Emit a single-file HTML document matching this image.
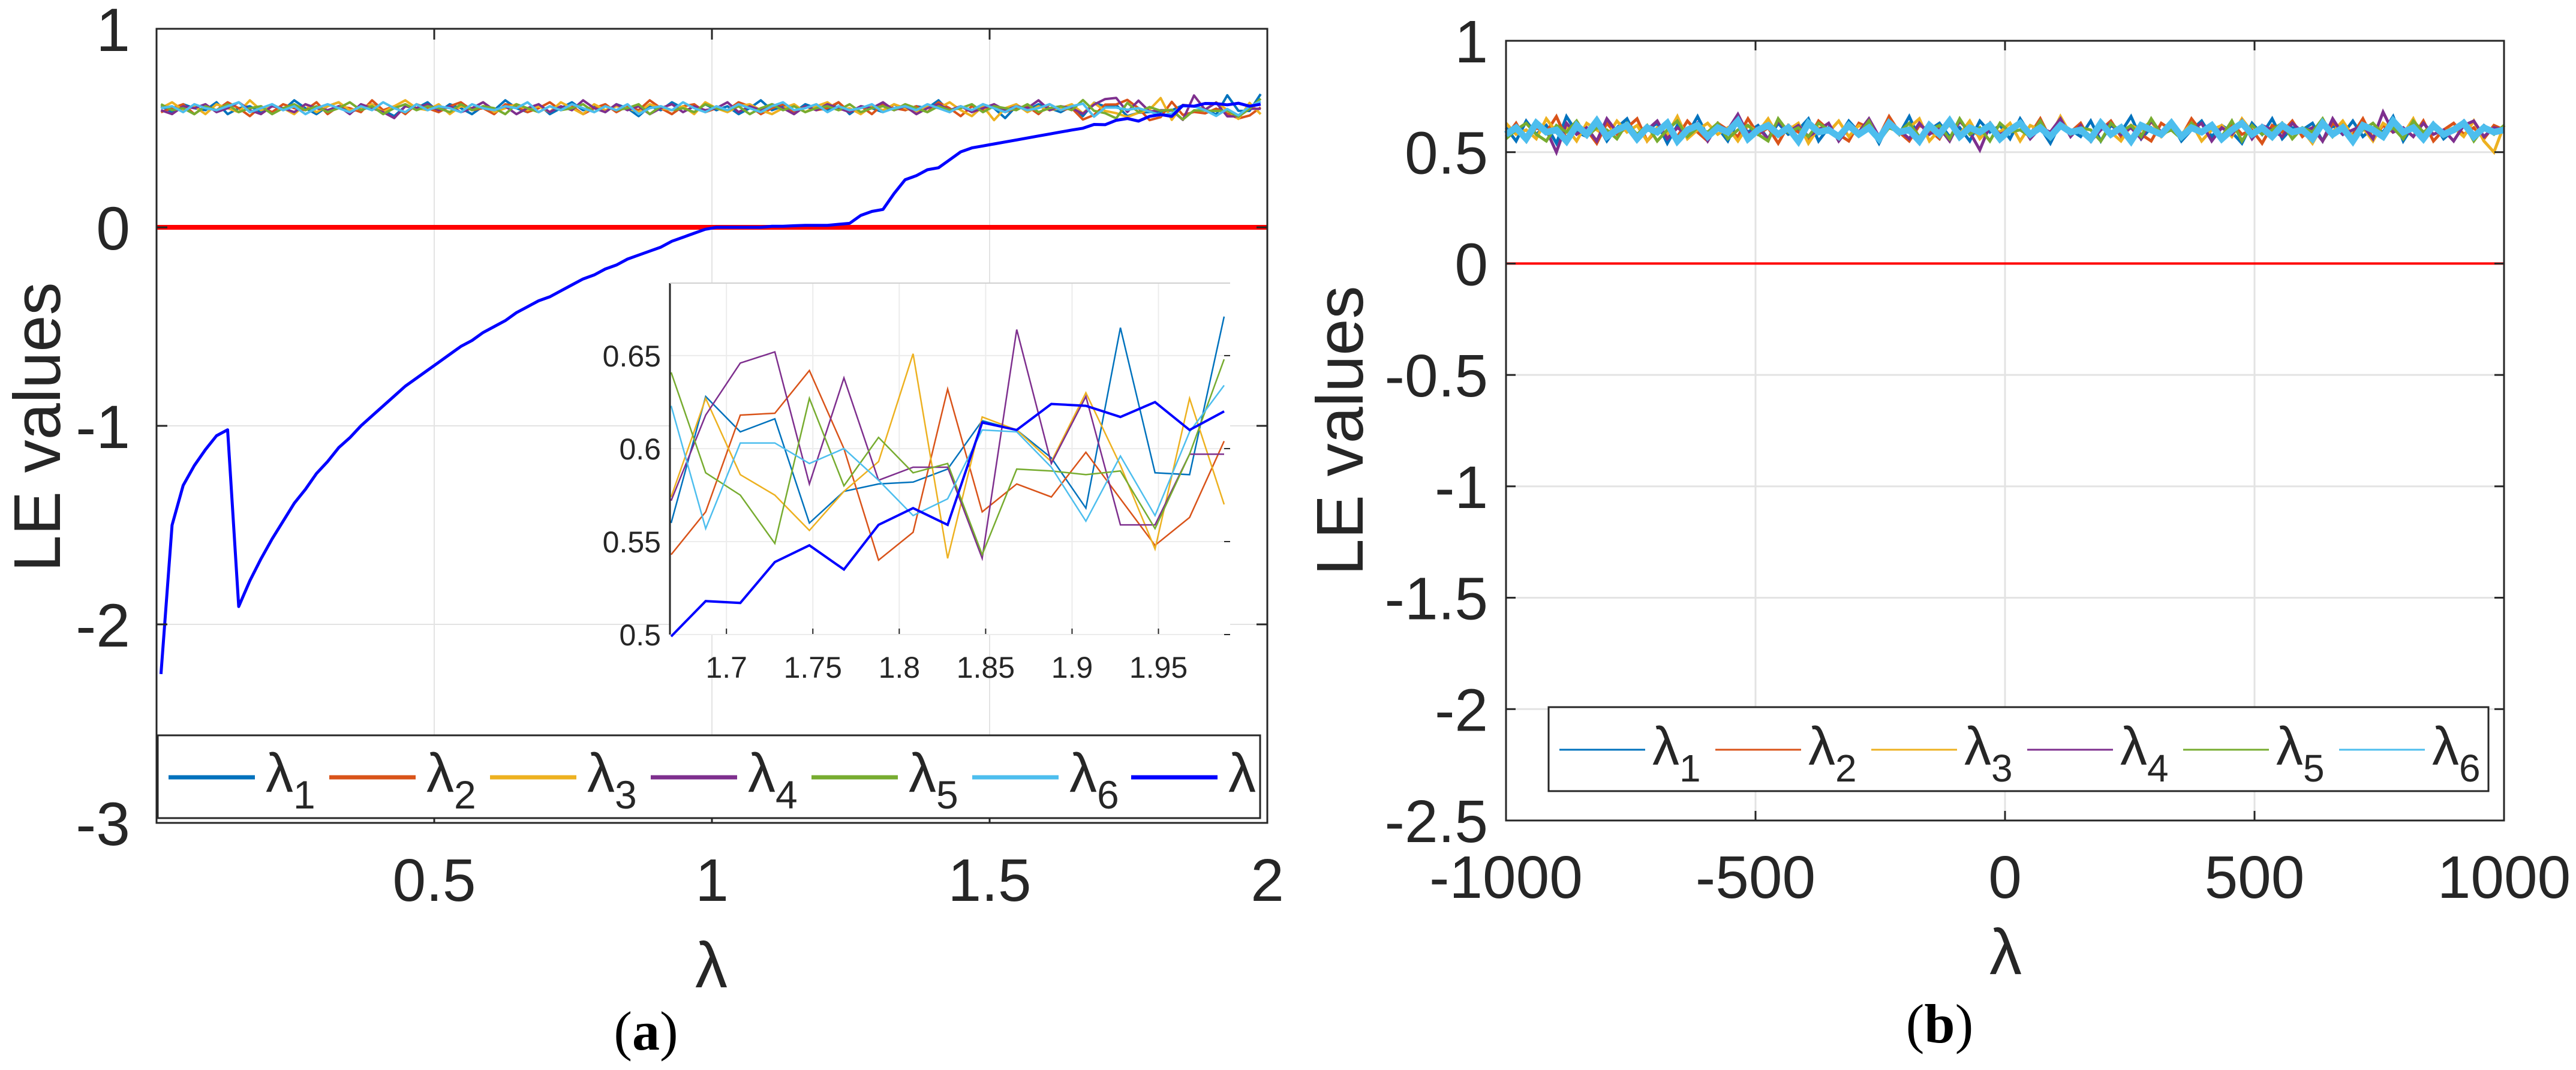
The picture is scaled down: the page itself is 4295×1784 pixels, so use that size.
<!DOCTYPE html>
<html><head><meta charset="utf-8"><title>LE values</title>
<style>
html,body{margin:0;padding:0;background:#fff;}
svg{display:block;}
text{font-family:"Liberation Sans",sans-serif;fill:#262626;}
.serif{font-family:"Liberation Serif",serif;fill:#000;}
</style></head>
<body>
<svg id="fig" width="4295" height="1784" viewBox="0 0 4295 1784" xmlns="http://www.w3.org/2000/svg">
<g id="panelA"></g>
<g id="panelB"></g>
</svg>
<script>
// ---------- DATA: panel (a) ----------
const aXTicks = [0.5, 1, 1.5, 2];
const aXTickLabels = ["0.5", "1", "1.5", "2"];
const aYTicks = [1, 0, -1, -2, -3];
const aYTickLabels = ["1", "0", "-1", "-2", "-3"];
const insetXTicks = [1.7, 1.75, 1.8, 1.85, 1.9, 1.95];
const insetXTickLabels = ["1.7", "1.75", "1.8", "1.85", "1.9", "1.95"];
const insetYTicks = [0.5, 0.55, 0.6, 0.65];
const insetYTickLabels = ["0.5", "0.55", "0.6", "0.65"];
const seriesNames = ["λ1","λ2","λ3","λ4","λ5","λ6","λ"];
const seriesColors = ["#0072BD","#D95319","#EDB120","#7E2F8E","#77AC30","#4DBEEE","#0000FF"];

const l1Head = [0.61,0.58,0.62,0.60,0.59,0.63,0.57,0.60,0.61,0.58,0.62,0.59,0.64,0.60,0.57,0.61,0.63,0.58,0.60,0.62,0.59,0.56,0.61,0.60,0.63,0.58,0.62,0.60,0.57,0.61,0.59,0.64,0.60,0.58,0.62,0.57,0.60,0.63,0.59,0.61,0.58,0.62,0.60,0.56,0.61,0.59,0.63,0.60,0.58,0.62,0.59,0.61,0.57,0.60,0.64,0.59,0.61,0.58,0.62,0.60,0.59,0.63,0.57,0.61,0.60,0.58,0.62,0.59,0.61,0.60,0.64,0.58,0.61,0.59,0.62,0.60,0.55,0.61,0.59,0.62,0.60,0.58,0.61];
const l2Head = [0.58,0.60,0.62,0.57,0.61,0.59,0.63,0.60,0.56,0.61,0.58,0.62,0.60,0.59,0.63,0.57,0.61,0.60,0.58,0.64,0.59,0.61,0.57,0.62,0.60,0.58,0.61,0.63,0.59,0.60,0.57,0.62,0.61,0.58,0.60,0.63,0.59,0.61,0.57,0.60,0.62,0.58,0.61,0.59,0.64,0.60,0.57,0.61,0.62,0.58,0.60,0.59,0.63,0.61,0.57,0.60,0.62,0.58,0.61,0.59,0.60,0.63,0.58,0.61,0.57,0.62,0.60,0.59,0.61,0.58,0.63,0.60,0.56,0.61,0.59,0.62,0.58,0.60,0.61,0.57,0.62,0.59,0.60];
const l3Head = [0.60,0.63,0.59,0.61,0.57,0.62,0.60,0.58,0.64,0.59,0.61,0.60,0.57,0.62,0.58,0.61,0.63,0.59,0.60,0.62,0.58,0.61,0.64,0.60,0.59,0.62,0.57,0.61,0.60,0.63,0.58,0.60,0.62,0.59,0.61,0.58,0.63,0.60,0.57,0.62,0.59,0.61,0.60,0.58,0.62,0.60,0.59,0.61,0.57,0.63,0.60,0.58,0.61,0.62,0.59,0.57,0.60,0.62,0.58,0.61,0.63,0.59,0.60,0.57,0.61,0.59,0.62,0.60,0.58,0.61,0.60,0.63,0.59,0.56,0.61,0.54,0.60,0.62,0.58,0.61,0.59,0.60,0.62];
const l4Head = [0.59,0.57,0.61,0.60,0.62,0.58,0.60,0.63,0.59,0.57,0.61,0.60,0.58,0.62,0.60,0.59,0.61,0.57,0.62,0.60,0.58,0.55,0.61,0.60,0.62,0.59,0.61,0.58,0.60,0.63,0.59,0.61,0.57,0.60,0.62,0.58,0.61,0.59,0.64,0.60,0.58,0.62,0.59,0.61,0.57,0.60,0.62,0.58,0.61,0.59,0.60,0.63,0.58,0.61,0.59,0.62,0.60,0.57,0.61,0.59,0.62,0.60,0.58,0.61,0.60,0.63,0.59,0.61,0.57,0.60,0.62,0.59,0.61,0.58,0.60,0.62,0.59,0.61,0.60,0.64,0.59,0.61,0.60];
const l5Head = [0.62,0.59,0.60,0.57,0.61,0.59,0.62,0.58,0.60,0.61,0.57,0.60,0.62,0.59,0.61,0.58,0.60,0.63,0.59,0.61,0.57,0.60,0.62,0.59,0.61,0.60,0.58,0.62,0.59,0.61,0.60,0.57,0.62,0.60,0.58,0.61,0.59,0.60,0.62,0.58,0.61,0.59,0.60,0.62,0.57,0.61,0.59,0.60,0.58,0.62,0.60,0.59,0.61,0.57,0.60,0.62,0.59,0.61,0.58,0.60,0.61,0.59,0.62,0.58,0.60,0.61,0.59,0.62,0.60,0.58,0.61,0.59,0.60,0.62,0.58,0.61,0.60,0.59,0.62,0.58,0.60,0.61,0.59];
const l6Head = [0.60,0.61,0.58,0.62,0.60,0.59,0.61,0.63,0.58,0.60,0.62,0.59,0.61,0.57,0.60,0.62,0.60,0.58,0.61,0.59,0.63,0.60,0.58,0.62,0.59,0.61,0.60,0.58,0.62,0.60,0.59,0.61,0.60,0.63,0.58,0.61,0.59,0.62,0.60,0.58,0.61,0.59,0.62,0.57,0.60,0.61,0.59,0.63,0.60,0.58,0.61,0.59,0.62,0.60,0.58,0.61,0.63,0.59,0.60,0.62,0.58,0.61,0.59,0.60,0.62,0.58,0.60,0.61,0.59,0.62,0.60,0.58,0.61,0.59,0.62,0.60,0.58,0.61,0.59,0.60,0.62,0.59,0.61];
const lamHead = [-2.25,-1.50,-1.30,-1.20,-1.12,-1.05,-1.02,-1.91,-1.78,-1.67,-1.57,-1.48,-1.39,-1.32,-1.24,-1.18,-1.11,-1.06,-1.00,-0.95,-0.90,-0.85,-0.80,-0.76,-0.72,-0.68,-0.64,-0.60,-0.57,-0.53,-0.50,-0.47,-0.43,-0.40,-0.37,-0.35,-0.32,-0.29,-0.26,-0.24,-0.21,-0.19,-0.16,-0.14,-0.12,-0.10,-0.07,-0.05,-0.03,-0.01,0.00,0.00,0.00,0.00,0.00,0.005,0.005,0.008,0.01,0.01,0.01,0.015,0.02,0.06,0.08,0.09,0.17,0.24,0.26,0.29,0.30,0.34,0.38,0.40,0.41,0.42,0.43,0.44,0.45,0.46,0.47,0.48,0.49];
const l1Tail = [0.560,0.628,0.609,0.616,0.560,0.577,0.581,0.582,0.589,0.615,0.610,0.595,0.568,0.665,0.587,0.586,0.671];
const l2Tail = [0.543,0.566,0.618,0.619,0.642,0.600,0.540,0.555,0.632,0.566,0.581,0.574,0.598,0.573,0.548,0.563,0.604];
const l3Tail = [0.574,0.627,0.586,0.575,0.556,0.577,0.593,0.651,0.541,0.617,0.610,0.593,0.630,0.591,0.546,0.627,0.570];
const l4Tail = [0.572,0.618,0.646,0.652,0.581,0.638,0.583,0.590,0.590,0.541,0.664,0.592,0.628,0.559,0.559,0.597,0.597];
const l5Tail = [0.641,0.587,0.575,0.549,0.627,0.580,0.606,0.587,0.592,0.543,0.589,0.588,0.586,0.588,0.557,0.597,0.648];
const l6Tail = [0.623,0.557,0.603,0.603,0.592,0.600,0.583,0.564,0.573,0.610,0.609,0.590,0.561,0.596,0.564,0.609,0.634];
const lamTail = [0.499,0.518,0.517,0.539,0.548,0.535,0.559,0.568,0.559,0.614,0.610,0.624,0.623,0.617,0.625,0.610,0.620];

// ---------- DATA: panel (b) ----------
const bXTicks = [-1000, -500, 0, 500, 1000];
const bXTickLabels = ["-1000", "-500", "0", "500", "1000"];
const bYTicks = [1, 0.5, 0, -0.5, -1, -1.5, -2, -2.5];
const bYTickLabels = ["1", "0.5", "0", "-0.5", "-1", "-1.5", "-2", "-2.5"];
const b1 = [0.61,0.55,0.64,0.58,0.62,0.54,0.66,0.59,0.57,0.63,0.55,0.61,0.65,0.56,0.60,0.63,0.54,0.62,0.58,0.66,0.57,0.61,0.55,0.64,0.59,0.62,0.56,0.63,0.58,0.60,0.65,0.55,0.61,0.57,0.64,0.59,0.62,0.54,0.63,0.58,0.66,0.56,0.60,0.63,0.57,0.61,0.55,0.64,0.59,0.62,0.56,0.65,0.58,0.61,0.54,0.63,0.60,0.57,0.64,0.55,0.62,0.59,0.66,0.56,0.61,0.58,0.63,0.55,0.60,0.64,0.57,0.62,0.59,0.54,0.63,0.58,0.65,0.56,0.61,0.60,0.63,0.55,0.62,0.58,0.64,0.57,0.61,0.59,0.66,0.55,0.62,0.58,0.63,0.56,0.60,0.64,0.57,0.62,0.59,0.61];
const b2 = [0.57,0.63,0.55,0.61,0.59,0.66,0.56,0.62,0.60,0.54,0.63,0.58,0.61,0.65,0.55,0.60,0.62,0.57,0.64,0.59,0.55,0.63,0.60,0.57,0.65,0.58,0.61,0.54,0.62,0.59,0.56,0.64,0.60,0.58,0.55,0.63,0.61,0.57,0.66,0.59,0.55,0.62,0.60,0.56,0.64,0.58,0.61,0.57,0.63,0.55,0.60,0.62,0.58,0.65,0.56,0.61,0.59,0.63,0.55,0.60,0.64,0.57,0.62,0.58,0.55,0.63,0.60,0.57,0.65,0.59,0.61,0.56,0.63,0.58,0.60,0.54,0.62,0.59,0.64,0.57,0.61,0.55,0.63,0.60,0.58,0.65,0.56,0.62,0.59,0.61,0.57,0.64,0.55,0.60,0.63,0.58,0.61,0.56,0.62,0.60];
const b3 = [0.63,0.58,0.60,0.56,0.65,0.59,0.61,0.55,0.63,0.60,0.57,0.64,0.59,0.62,0.55,0.61,0.58,0.66,0.56,0.60,0.63,0.58,0.61,0.55,0.62,0.59,0.65,0.57,0.60,0.63,0.54,0.61,0.59,0.64,0.57,0.62,0.60,0.56,0.63,0.58,0.61,0.65,0.55,0.60,0.62,0.58,0.64,0.56,0.61,0.59,0.63,0.55,0.62,0.60,0.57,0.66,0.58,0.61,0.56,0.63,0.59,0.55,0.62,0.60,0.64,0.57,0.61,0.58,0.63,0.55,0.60,0.62,0.57,0.65,0.59,0.61,0.56,0.63,0.58,0.60,0.54,0.62,0.59,0.64,0.57,0.61,0.55,0.63,0.60,0.58,0.65,0.56,0.62,0.59,0.61,0.57,0.64,0.55,0.50,0.62];
const b4 = [0.59,0.62,0.56,0.64,0.60,0.50,0.63,0.58,0.61,0.55,0.65,0.59,0.62,0.57,0.60,0.64,0.56,0.61,0.58,0.63,0.55,0.62,0.60,0.67,0.58,0.61,0.56,0.64,0.59,0.62,0.57,0.60,0.63,0.55,0.61,0.59,0.65,0.57,0.62,0.60,0.56,0.63,0.58,0.61,0.55,0.64,0.59,0.51,0.62,0.58,0.60,0.63,0.56,0.61,0.59,0.65,0.57,0.62,0.55,0.60,0.63,0.58,0.61,0.56,0.64,0.59,0.62,0.57,0.60,0.63,0.55,0.61,0.58,0.64,0.56,0.62,0.60,0.57,0.63,0.59,0.61,0.55,0.65,0.58,0.60,0.62,0.56,0.68,0.59,0.61,0.57,0.63,0.58,0.60,0.55,0.62,0.64,0.57,0.61,0.60];
const b5 = [0.56,0.60,0.63,0.58,0.55,0.62,0.59,0.64,0.57,0.61,0.60,0.56,0.63,0.58,0.62,0.55,0.60,0.64,0.57,0.61,0.59,0.63,0.56,0.60,0.62,0.58,0.55,0.65,0.59,0.61,0.57,0.63,0.60,0.56,0.62,0.58,0.64,0.55,0.61,0.59,0.63,0.57,0.60,0.62,0.56,0.65,0.58,0.61,0.55,0.63,0.59,0.60,0.57,0.64,0.56,0.62,0.58,0.61,0.60,0.55,0.63,0.59,0.62,0.57,0.65,0.58,0.60,0.56,0.63,0.59,0.61,0.57,0.64,0.55,0.62,0.58,0.60,0.63,0.56,0.61,0.59,0.65,0.57,0.62,0.55,0.60,0.63,0.58,0.61,0.56,0.64,0.59,0.62,0.57,0.60,0.63,0.55,0.61,0.58,0.62];
const b6 = [0.58,0.61,0.56,0.63,0.59,0.60,0.55,0.62,0.58,0.64,0.57,0.60,0.62,0.56,0.61,0.59,0.63,0.55,0.60,0.62,0.57,0.61,0.59,0.64,0.56,0.60,0.62,0.58,0.61,0.55,0.63,0.59,0.60,0.57,0.62,0.58,0.61,0.56,0.63,0.59,0.60,0.55,0.62,0.58,0.64,0.57,0.61,0.59,0.62,0.56,0.60,0.63,0.58,0.61,0.57,0.62,0.59,0.60,0.56,0.63,0.58,0.61,0.55,0.62,0.60,0.58,0.63,0.57,0.61,0.59,0.62,0.56,0.60,0.63,0.58,0.61,0.57,0.62,0.59,0.60,0.56,0.63,0.58,0.61,0.55,0.62,0.60,0.57,0.64,0.59,0.61,0.56,0.62,0.58,0.60,0.63,0.57,0.61,0.59,0.60];

// ---------- helpers ----------
const NS = "http://www.w3.org/2000/svg";
function mk(parent, tag, attrs) {
  const e = document.createElementNS(NS, tag);
  for (const k in attrs) e.setAttribute(k, attrs[k]);
  parent.appendChild(e);
  return e;
}
function linear(d0, d1, r0, r1) { return v => r0 + (v - d0) / (d1 - d0) * (r1 - r0); }

// ---------- PANEL A ----------
const A = document.getElementById("panelA");
const aL = 261, aR = 2113, aT = 48, aB = 1372;
const ax = linear(0, 2, aL, aR), ay = linear(1, -3, aT, aB);

aXTicks.forEach(t => {
  if (t >= 2) return;
  const g = mk(A, "line", {x1: ax(t), x2: ax(t), y1: aT, y2: aB, stroke: "#e3e3e3", "stroke-width": 2});
  
  
});
aYTicks.forEach(t => {
  if (t >= 1 || t <= -3) return;
  const g = mk(A, "line", {x1: aL, x2: aR, y1: ay(t), y2: ay(t), stroke: "#e3e3e3", "stroke-width": 2});
  
  
});

const aHeads = [l1Head, l2Head, l3Head, l4Head, l5Head, l6Head, lamHead];
const aTails = [l1Tail, l2Tail, l3Tail, l4Tail, l5Tail, l6Tail, lamTail];
const lastX = 1.988, stepX = 0.02;

const zl = mk(A, "line", {x1: aL, x2: aR, y1: ay(0), y2: ay(0), stroke: "#ff0000", "stroke-width": 8});



for (let s = 0; s < 7; s++) {
  const full = aHeads[s].concat(aTails[s]);
  const n = full.length;
  const pts = full.map((v, k) => ax(lastX - stepX * (n - 1 - k)).toFixed(1) + "," + ay(v).toFixed(1)).join(" ");
  const pl = mk(A, "polyline", {points: pts, fill: "none", stroke: seriesColors[s], "stroke-width": s === 6 ? 5 : 4, "stroke-linejoin": "round"});
  
  
}

const aBox = mk(A, "rect", {x: aL, y: aT, width: aR - aL, height: aB - aT, fill: "none", stroke: "#262626", "stroke-width": 3});


aXTicks.forEach((t, i) => {
  mk(A, "line", {x1: ax(t), x2: ax(t), y1: aB, y2: aB - 18, stroke: "#262626", "stroke-width": 3});
  mk(A, "line", {x1: ax(t), x2: ax(t), y1: aT, y2: aT + 18, stroke: "#262626", "stroke-width": 3});
  const tx = mk(A, "text", {x: ax(t), y: 1502, "font-size": 100, "text-anchor": "middle"});
  tx.textContent = aXTickLabels[i];
  
  
});
aYTicks.forEach((t, i) => {
  mk(A, "line", {x1: aL, x2: aL + 18, y1: ay(t), y2: ay(t), stroke: "#262626", "stroke-width": 3});
  mk(A, "line", {x1: aR, x2: aR - 18, y1: ay(t), y2: ay(t), stroke: "#262626", "stroke-width": 3});
  const tx = mk(A, "text", {x: 217, y: ay(t) + 37, "font-size": 102, "text-anchor": "end"});
  tx.textContent = aYTickLabels[i];
  
  
});

// inset
const iL = 1117, iR = 2051, iT = 472, iB = 1058;
const ix = linear(1.668, 1.988, iL + 2, iR - 10), iy = linear(0.5, 0.689, iB, iT);
const iBg = mk(A, "rect", {x: iL, y: iT, width: iR - iL, height: iB - iT, fill: "#fff", stroke: "none"});


insetXTicks.forEach((t, i) => {
  const g = mk(A, "line", {x1: ix(t), x2: ix(t), y1: iT, y2: iB, stroke: "#ececec", "stroke-width": 2});
  
  
  mk(A, "line", {x1: ix(t), x2: ix(t), y1: iB, y2: iB - 10, stroke: "#262626", "stroke-width": 2});
  const tx = mk(A, "text", {x: ix(t), y: 1130, "font-size": 50, "text-anchor": "middle"});
  tx.textContent = insetXTickLabels[i];
  
  
});
insetYTicks.forEach((t, i) => {
  const g = mk(A, "line", {x1: iL, x2: iR, y1: iy(t), y2: iy(t), stroke: "#ececec", "stroke-width": 2});
  
  
  mk(A, "line", {x1: iR, x2: iR - 10, y1: iy(t), y2: iy(t), stroke: "#262626", "stroke-width": 2});
  const tx = mk(A, "text", {x: 1102, y: iy(t) + 18, "font-size": 50, "text-anchor": "end"});
  tx.textContent = insetYTickLabels[i];
  
  
});
for (let s = 0; s < 7; s++) {
  const d = aTails[s], n = d.length;
  const pts = d.map((v, k) => ix(lastX - stepX * (n - 1 - k)).toFixed(1) + "," + iy(v).toFixed(1)).join(" ");
  const pl = mk(A, "polyline", {points: pts, fill: "none", stroke: seriesColors[s], "stroke-width": s === 6 ? 4 : 2.5});
  
  
}
const iAx = mk(A, "line", {x1: iL, x2: iL, y1: iT, y2: iB, stroke: "#262626", "stroke-width": 3});


const iTop = mk(A, "line", {x1: iL, x2: iR, y1: iT, y2: iT, stroke: "#d0d0d0", "stroke-width": 2});



// legend A
const legA = mk(A, "g", {});


mk(legA, "rect", {x: 263, y: 1226, width: 1838, height: 138, fill: "#fff", stroke: "#262626", "stroke-width": 3});
for (let s = 0; s < 7; s++) {
  const x0 = s < 6 ? 281 + s * 268 : 1886;
  const ent = mk(legA, "g", {});
  
  
  mk(ent, "line", {x1: x0, x2: x0 + 144, y1: 1296, y2: 1296, stroke: seriesColors[s], "stroke-width": 7});
  const t = mk(ent, "text", {x: x0 + 162, y: 1320, "font-size": 92, fill: "#000"});
  t.textContent = "λ";
  if (s < 6) {
    const sub = mk(t, "tspan", {dy: 28, "font-size": 66});
    sub.textContent = String(s + 1);
  }
}

const aYL = mk(A, "text", {x: 0, y: 0, "font-size": 110, "text-anchor": "middle", transform: "translate(100,712) rotate(-90)"});
aYL.textContent = "LE values";


const aXL = mk(A, "text", {x: 1186, y: 1646, "font-size": 108, "text-anchor": "middle"});
aXL.textContent = "λ";


const capA = mk(A, "text", {x: 1077, y: 1750, "font-size": 92, "text-anchor": "middle", class: "serif"});
capA.innerHTML = '(<tspan font-weight="bold">a</tspan>)';



// ---------- PANEL B ----------
const B = document.getElementById("panelB");
const bL = 2511, bR = 4175, bT = 68, bB = 1368;
const bx = linear(-1000, 1000, bL, bR), by = linear(1, -2.5, bT, bB);
bXTicks.forEach(t => {
  if (t <= -1000 || t >= 1000) return;
  const g = mk(B, "line", {x1: bx(t), x2: bx(t), y1: bT, y2: bB, stroke: "#e3e3e3", "stroke-width": 3});
  
  
});
bYTicks.forEach(t => {
  if (t >= 1 || t <= -2.5) return;
  const g = mk(B, "line", {x1: bL, x2: bR, y1: by(t), y2: by(t), stroke: "#e3e3e3", "stroke-width": 3});
  
  
});
const zlb = mk(B, "line", {x1: bL, x2: bR, y1: by(0), y2: by(0), stroke: "#ff0000", "stroke-width": 4});


const bSeries = [b1, b2, b3, b4, b5, b6];
bSeries.forEach((d, s) => {
  const n = d.length;
  const pts = d.map((v, k) => bx(-1000 + 2000 * k / (n - 1)).toFixed(1) + "," + by(v).toFixed(1)).join(" ");
  const pl = mk(B, "polyline", {points: pts, fill: "none", stroke: seriesColors[s], "stroke-width": s === 5 ? 11 : 5});
  
  
});
const bBox = mk(B, "rect", {x: bL, y: bT, width: bR - bL, height: bB - bT, fill: "none", stroke: "#262626", "stroke-width": 3});


bXTicks.forEach((t, i) => {
  mk(B, "line", {x1: bx(t), x2: bx(t), y1: bB, y2: bB - 16, stroke: "#262626", "stroke-width": 3});
  mk(B, "line", {x1: bx(t), x2: bx(t), y1: bT, y2: bT + 16, stroke: "#262626", "stroke-width": 3});
  const tx = mk(B, "text", {x: bx(t), y: 1497, "font-size": 100, "text-anchor": "middle"});
  tx.textContent = bXTickLabels[i];
  
  
});
bYTicks.forEach((t, i) => {
  mk(B, "line", {x1: bL, x2: bL + 16, y1: by(t), y2: by(t), stroke: "#262626", "stroke-width": 3});
  mk(B, "line", {x1: bR, x2: bR - 16, y1: by(t), y2: by(t), stroke: "#262626", "stroke-width": 3});
  const tx = mk(B, "text", {x: 2481, y: by(t) + 36, "font-size": 100, "text-anchor": "end"});
  tx.textContent = bYTickLabels[i];
  
  
});
const legB = mk(B, "g", {});


mk(legB, "rect", {x: 2582, y: 1179, width: 1567, height: 140, fill: "#fff", stroke: "#262626", "stroke-width": 3});
for (let s = 0; s < 6; s++) {
  const x0 = 2600 + s * 260;
  const ent = mk(legB, "g", {});
  
  
  mk(ent, "line", {x1: x0, x2: x0 + 143, y1: 1250, y2: 1250, stroke: seriesColors[s], "stroke-width": 3});
  const t = mk(ent, "text", {x: x0 + 155, y: 1275, "font-size": 90, fill: "#000"});
  t.textContent = "λ";
  const sub = mk(t, "tspan", {dy: 28, "font-size": 64});
  sub.textContent = String(s + 1);
}
const bYL = mk(B, "text", {x: 0, y: 0, "font-size": 110, "text-anchor": "middle", transform: "translate(2272,718) rotate(-90)"});
bYL.textContent = "LE values";


const bXL = mk(B, "text", {x: 3344, y: 1624, "font-size": 108, "text-anchor": "middle"});
bXL.textContent = "λ";


const capB = mk(B, "text", {x: 3234, y: 1738, "font-size": 92, "text-anchor": "middle", class: "serif"});
capB.innerHTML = '(<tspan font-weight="bold">b</tspan>)';


</script>
</body></html>
